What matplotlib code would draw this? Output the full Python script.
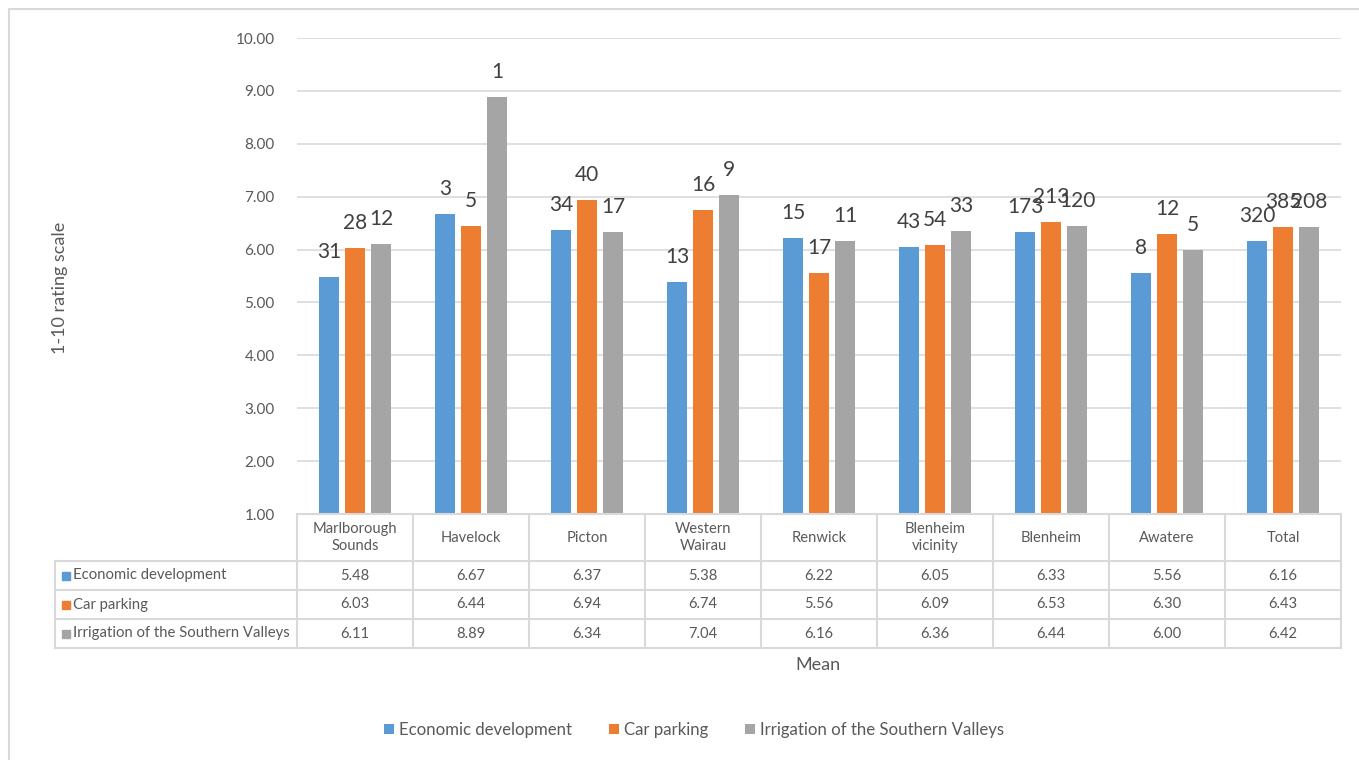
import matplotlib
matplotlib.use("Agg")
import matplotlib.pyplot as plt
import matplotlib.transforms as mtransforms
from matplotlib.lines import Line2D
from matplotlib.patches import Rectangle
import numpy as np

plt.rcParams['font.family'] = ['Lato', 'DejaVu Sans']

# ---- data ----
categories = ["Marlborough\nSounds", "Havelock", "Picton", "Western\nWairau", "Renwick",
              "Blenheim\nvicinity", "Blenheim", "Awatere", "Total"]
series_names = ["Economic development", "Car parking", "Irrigation of the Southern Valleys"]
economic = [5.48, 6.67, 6.37, 5.38, 6.22, 6.05, 6.33, 5.56, 6.16]
parking = [6.03, 6.44, 6.94, 6.74, 5.56, 6.09, 6.53, 6.30, 6.43]
irrigation = [6.11, 8.89, 6.34, 7.04, 6.16, 6.36, 6.44, 6.00, 6.42]
n_economic = [31, 3, 34, 13, 15, 43, 173, 8, 320]
n_parking = [28, 5, 40, 16, 17, 54, 213, 12, 385]
n_irrigation = [12, 1, 17, 9, 11, 33, 120, 5, 208]
y_ticks = [1, 2, 3, 4, 5, 6, 7, 8, 9, 10]

colors = ["#5B9BD5", "#ED7D31", "#A5A5A5"]
grid_c = "#D9D9D9"
text_c = "#595959"

W, H = 1359, 760
fig = plt.figure(figsize=(W / 100, H / 100), dpi=100)


def fx(px):
    return px / W


def fy(py):
    return 1 - py / H


ax = fig.add_axes([fx(297), fy(514), fx(1341) - fx(297), fy(38) - fy(514)])

values = [economic, parking, irrigation]
counts = [n_economic, n_parking, n_irrigation]
x = np.arange(len(categories))
bar_w = 0.172
pitch = 0.224
bars = []
for k, (vals, cnts) in enumerate(zip(values, counts)):
    pos = x + (k - 1) * pitch
    heights = np.array(vals) - 1.0
    b = ax.bar(pos, heights, bottom=1.0, width=bar_w, color=colors[k],
               label=series_names[k], zorder=3)
    bars.append(b)
    for xp, v, c in zip(pos, vals, cnts):
        ax.annotate(str(c), (xp, v), xytext=(0, 18), textcoords="offset points",
                    ha="center", va="center", fontsize=15, color="#404040", zorder=4)

ax.set_xlim(-0.5, len(categories) - 0.5)
ax.set_ylim(1, 10)
ax.set_yticks(y_ticks)
ax.set_yticklabels([f"{t:.2f}" for t in y_ticks], fontsize=11, color=text_c)
ax.yaxis.grid(True, color=grid_c, linewidth=1.2, zorder=0)
ax.set_xticks([])
ax.tick_params(axis="y", length=0, pad=16)
for s in ax.spines.values():
    s.set_visible(False)

# ---- data table underneath the axes ----
blend = mtransforms.blended_transform_factory(ax.transData, fig.transFigure)
lw = 1.5
row_y = [514, 561, 590, 619, 648]
# header row top line (category cells only)
fig.add_artist(Line2D([-0.5, len(categories) - 0.5], [fy(514)] * 2, transform=blend,
                      color=grid_c, lw=lw))
for yy in row_y[1:]:
    fig.add_artist(Line2D([fx(55), fx(1341)], [fy(yy)] * 2, transform=fig.transFigure,
                          color=grid_c, lw=lw))
fig.add_artist(Line2D([fx(55), fx(55)], [fy(561), fy(648)], transform=fig.transFigure,
                      color=grid_c, lw=lw))
for i in range(len(categories) + 1):
    fig.add_artist(Line2D([i - 0.5, i - 0.5], [fy(514), fy(648)], transform=blend,
                          color=grid_c, lw=lw))

for i, cat in enumerate(categories):
    fig.text(i, fy(537.5), cat, transform=blend, ha="center", va="center",
             fontsize=10.6, color=text_c, linespacing=1.3)

for r, (name, vals) in enumerate(zip(series_names, values)):
    yc = (row_y[r + 1] + row_y[r + 2]) / 2
    fig.add_artist(Rectangle((fx(62), fy(yc + 4)), fx(8), fy(yc - 4) - fy(yc + 4),
                             transform=fig.transFigure, color=colors[r]))
    fig.text(fx(73), fy(yc), name, ha="left", va="center", fontsize=10.7, color=text_c)
    for i, v in enumerate(vals):
        fig.text(i, fy(yc), f"{v:.2f}", transform=blend, ha="center", va="center",
                 fontsize=10.6, color=text_c)

# ---- axis titles ----
fig.text(fx(60), fy(288), "1-10 rating scale", rotation=90, ha="center", va="center",
         fontsize=13, color=text_c)
fig.text(fx(818), fy(665), "Mean", ha="center", va="center", fontsize=13, color=text_c)

# ---- legend ----
fig.legend(handles=bars, labels=series_names, loc="center",
           bbox_to_anchor=(fx(694), fy(730)), ncol=3, frameon=False,
           fontsize=12.1, labelcolor=text_c, handlelength=0.6, handleheight=0.6,
           handletextpad=0.3, columnspacing=2.2)

# ---- chart border (left and top edges) ----
fig.add_artist(Line2D([fx(9), fx(9), fx(W)], [fy(H), fy(9), fy(9)],
                      transform=fig.transFigure, color=grid_c, lw=1.5))

fig.savefig("out.png", dpi=100)
